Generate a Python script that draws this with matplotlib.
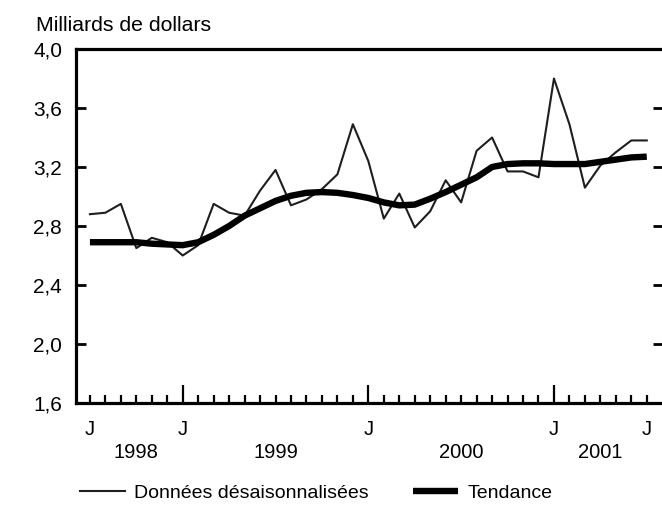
import matplotlib
matplotlib.use('Agg')
import matplotlib.pyplot as plt
import matplotlib.transforms as mtransforms

plt.rcParams['font.family'] = ['Liberation Sans', 'DejaVu Sans']

# monthly data, July 1998 to July 2001
months = list(range(37))
donnees = [2.88, 2.89, 2.95, 2.65, 2.72, 2.69, 2.60, 2.67, 2.95, 2.89, 2.87, 3.04,
           3.18, 2.94, 2.98, 3.05, 3.15, 3.49, 3.24, 2.85, 3.02, 2.79, 2.90, 3.11,
           2.96, 3.31, 3.40, 3.17, 3.17, 3.13, 3.80, 3.49, 3.06, 3.21, 3.30, 3.38,
           3.38]
tendance = [2.69, 2.69, 2.69, 2.69, 2.68, 2.675, 2.67, 2.69, 2.74, 2.80, 2.87, 2.92,
            2.97, 3.005, 3.025, 3.03, 3.025, 3.01, 2.99, 2.96, 2.94, 2.945, 2.985, 3.03,
            3.08, 3.13, 3.20, 3.22, 3.225, 3.225, 3.22, 3.22, 3.22, 3.235, 3.25, 3.265,
            3.27]

yticks = [1.6, 2.0, 2.4, 2.8, 3.2, 3.6, 4.0]
ytick_labels = ['1,6', '2,0', '2,4', '2,8', '3,2', '3,6', '4,0']
j_ticks = [0, 6, 18, 30, 36]
long_ticks = [6, 18, 30]
year_pos = [3, 12, 24, 33]
year_labels = ['1998', '1999', '2000', '2001']

W, H = 662, 520
fig = plt.figure(figsize=(W / 100, H / 100), dpi=100)
ax = fig.add_axes([76 / W, 1 - 403 / H, 587 / W, 354 / H])

ax.plot(months, donnees, color='#1e1e1e', lw=1.5, label='Données désaisonnalisées')
ax.plot(months, tendance, color='black', lw=4.6, solid_capstyle='butt', label='Tendance')

ax.set_xlim(-0.9, 37.05)
ax.set_ylim(1.6, 4.0)

for s in ax.spines.values():
    s.set_linewidth(2.3)
ax.spines['right'].set_visible(False)

ax.set_yticks(yticks)
ax.set_yticklabels(ytick_labels)
ax.tick_params(axis='y', direction='in', length=7, width=2, labelsize=15, pad=10,
               right=True)

ax.set_xticks(months, minor=True)
ax.set_xticks(j_ticks)
ax.set_xticklabels(['J'] * len(j_ticks))
ax.tick_params(axis='x', which='minor', direction='in', length=6, width=1.6)
ax.tick_params(axis='x', which='major', direction='in', length=6, width=1.6,
               labelsize=14.5, pad=12)
for t, pos in zip(ax.xaxis.get_major_ticks(), j_ticks):
    if pos in long_ticks:
        t.tick1line.set_markersize(13)

trans = mtransforms.blended_transform_factory(ax.transData, ax.transAxes)
for xp, lab in zip(year_pos, year_labels):
    ax.text(xp, -40 / 354, lab, transform=trans, ha='center', va='top', fontsize=14.5)

fig.text(36 / W, 1 - 31 / H, 'Milliards de dollars', ha='left', va='baseline', fontsize=15.3)

fig.legend(loc='center left', bbox_to_anchor=(80 / W, 1 - 493 / H), ncol=2,
           frameon=False, fontsize=14, handlelength=2.3, handletextpad=0.5,
           columnspacing=2.25, borderpad=0, borderaxespad=0)

fig.savefig('out.png', dpi=100)
